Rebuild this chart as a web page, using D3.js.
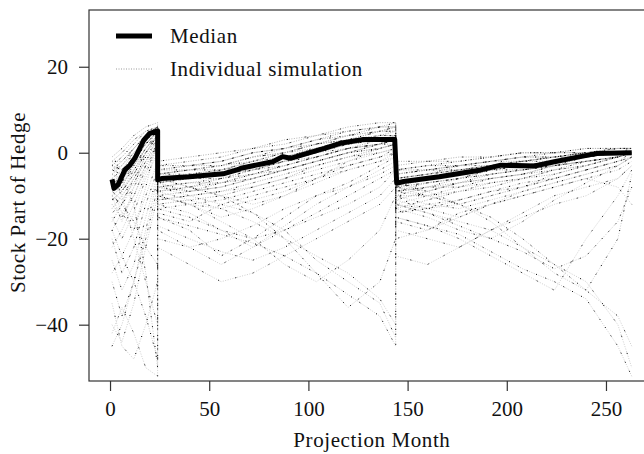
<!DOCTYPE html>
<html>
<head>
<meta charset="utf-8">
<script src="https://cdn.jsdelivr.net/npm/d3@7"></script>
<style>
  body { margin: 0; background: #fff; }
  text { font-family: 'Liberation Serif', 'Times New Roman', serif; fill: #111; }
</style>
</head>
<body>
<div id="chart"></div>
<script>
'use strict'

// median of the simulations (month, stock part)
const medianMonth = [1, 2, 4, 7.5, 10, 12.5, 17, 20, 24, 24, 26, 40, 57, 64, 66, 82, 87, 91, 99, 108, 116, 128, 143.5, 144.5, 148, 166, 187, 197, 214, 224, 237, 245, 263]
const medianValue = [-6.2, -8.3, -7.5, -4, -2.9, -1.3, 2.9, 4.5, 5.1, -6.3, -6, -5.6, -4.9, -4, -3.6, -2.1, -0.9, -1.3, -0.2, 1, 2.2, 3.1, 3.1, -7.1, -6.7, -5.6, -4, -2.9, -3.1, -2.1, -0.9, -0.2, 0]

// individual simulations sampled at these months (resets at 24 and 144)
const simMonths = [1, 6, 12, 18, 24, 24, 40, 56, 72, 88, 104, 120, 136, 144, 144, 160, 176, 192, 208, 224, 240, 256, 263]

// simulations staying close to the median
const simNear = [
  [-3, -1, 2, 5, 6, -4, -3, -2, 0, 1, 3, 5, 6, 7, -4, -3, -2, -1, 0, 0, 1, 1, 1],
  [-8, -9, -4, 1, 4, -8, -7, -6, -4, -2, 0, 2, 3, 3, -9, -7, -6, -4, -3, -2, -1, 0, 0],
  [-5, -3, 0, 3, 5, -5, -4, -3, -2, 0, 1, 3, 4, 5, -6, -5, -3, -3, -2, -1, 0, 0, 0],
  [-10, -12, -6, -1, 3, -7, -6, -5, -3, -1, 1, 2, 3, 4, -8, -6, -5, -4, -3, -2, -1, 0, 0],
  [-2, 0, 3, 5, 6, -3, -2, -1, 1, 2, 4, 5, 6, 6, -3, -2, -2, -1, 0, 0, 0, 1, 1],
  [-6, -8, -2, 2, 5, -6, -6, -4, -3, -1, 0, 2, 3, 3, -7, -6, -5, -3, -3, -2, -1, 0, 0],
  [-4, -2, 1, 4, 6, -5, -4, -4, -2, 0, 2, 3, 5, 5, -5, -4, -3, -2, -1, -1, 0, 0, 0],
  [-12, -15, -10, -3, 2, -9, -8, -7, -5, -3, -1, 1, 2, 2, -10, -8, -6, -5, -4, -3, -2, -1, 0],
  [-1, 1, 4, 6, 7, -2, -1, 0, 1, 3, 4, 6, 7, 7, -2, -2, -1, -1, 0, 0, 1, 1, 1],
  [-7, -5, -1, 3, 5, -6, -5, -5, -4, -2, -1, 1, 2, 3, -6, -5, -4, -3, -2, -2, -1, 0, 0],
  [-9, -11, -7, -2, 2, -8, -7, -7, -5, -4, -2, 0, 1, 2, -9, -8, -7, -5, -4, -3, -2, -1, 0],
  [-2, -4, -1, 3, 6, -7, -9, -8, -6, -4, -2, 0, 2, 4, -8, -9, -7, -6, -5, -3, -2, -1, 0],
  [-4, -5, -2, 2, 5, -5, -5, -4, -3, -1, 1, 3, 4, 4, -6, -5, -4, -3, -2, -1, 0, 0, 0],
  [-7, -6, -3, 1, 4, -7, -6, -5, -4, -2, 0, 1, 3, 3, -7, -6, -5, -4, -3, -2, -1, 0, 0],
  [-5, -7, -1, 4, 6, -4, -4, -3, -1, 0, 2, 4, 5, 6, -5, -4, -3, -2, -2, -1, 0, 0, 1],
  [-9, -7, -4, 0, 3, -9, -8, -6, -5, -3, -1, 1, 2, 3, -8, -7, -6, -5, -4, -3, -1, 0, 0],
  [-3, -4, 0, 3, 5, -6, -5, -4, -2, -1, 1, 2, 4, 4, -6, -5, -4, -3, -2, -1, -1, 0, 0],
  [-11, -9, -5, 0, 4, -10, -9, -8, -6, -4, -2, 0, 2, 3, -11, -9, -7, -6, -5, -3, -2, -1, 0],
  [-6, -4, -1, 2, 5, -3, -3, -2, 0, 1, 3, 4, 6, 6, -4, -3, -3, -2, -1, 0, 0, 1, 1],
  [-13, -10, -6, -2, 3, -12, -11, -10, -8, -6, -3, -1, 1, 2, -13, -11, -9, -8, -6, -5, -3, -1, 0],
  [-2, -2, 1, 4, 6, -6, -6, -5, -3, -2, 0, 2, 3, 4, -7, -6, -4, -4, -3, -2, -1, 0, 0],
  [-8, -6, -2, 2, 5, -8, -9, -7, -6, -4, -2, 0, 1, 2, -9, -8, -8, -6, -5, -4, -2, -1, 0],
  [-5, -6, -3, 1, 4, -4, -3, -3, -1, 0, 2, 3, 5, 5, -5, -4, -4, -3, -2, -1, 0, 0, 0],
  [-4, -3, 1, 4, 6, -5, -4, -3, -1, 1, 2, 4, 5, 6, -4, -4, -3, -2, -1, -1, 0, 1, 1],
  [-7, -9, -5, 0, 4, -7, -6, -6, -4, -3, -1, 1, 2, 3, -8, -7, -6, -4, -4, -3, -2, -1, 0],
  [-10, -8, -3, 1, 5, -11, -10, -9, -7, -5, -3, -1, 0, 1, -10, -10, -9, -7, -6, -4, -3, -1, 0]
]

// simulations that wander further down
const simFar = [
  [-15, -20, -14, -6, 0, -11, -10, -9, -8, -6, -4, -2, 0, 1, -12, -10, -8, -7, -6, -4, -3, -1, 0],
  [-20, -28, -22, -12, -4, -14, -16, -12, -10, -8, -6, -3, -1, 0, -14, -12, -11, -9, -8, -6, -4, -2, -1],
  [-8, -14, -18, -10, -2, -10, -12, -15, -13, -10, -7, -4, -2, -1, -11, -13, -15, -12, -9, -7, -5, -3, -1],
  [-25, -32, -26, -15, -5, -12, -14, -18, -22, -17, -12, -8, -4, -2, -13, -15, -18, -20, -16, -11, -7, -3, -1],
  [-30, -38, -30, -20, -8, -15, -18, -24, -20, -15, -10, -7, -3, -1, -16, -18, -14, -12, -10, -8, -6, -4, -2],
  [-6, -10, -20, -30, -40, -8, -10, -12, -14, -18, -25, -30, -35, -43, -9, -10, -12, -16, -22, -28, -32, -38, -45],
  [-40, -44, -35, -22, -10, -18, -22, -26, -22, -18, -15, -12, -8, -4, -18, -20, -22, -18, -15, -12, -10, -6, -3],
  [-3, -6, -12, -28, -50, -6, -8, -10, -14, -20, -28, -36, -30, -20, -7, -9, -12, -15, -20, -26, -32, -20, -5],
  [-45, -40, -30, -18, -6, -10, -12, -16, -20, -26, -30, -25, -18, -10, -12, -14, -16, -18, -22, -26, -30, -40, -50],
  [-35, -45, -48, -40, -30, -20, -22, -20, -17, -13, -10, -8, -5, -3, -20, -18, -15, -12, -10, -8, -6, -8, -12],
  [-18, -24, -30, -38, -48, -15, -17, -19, -21, -24, -28, -33, -38, -45, -15, -17, -19, -23, -27, -30, -34, -45, -52],
  [-10, -16, -8, 0, 4, -6, -8, -10, -12, -10, -6, -2, 1, 2, -8, -10, -12, -10, -8, -5, -3, -1, 0],
  [-22, -18, -12, -5, 2, -9, -11, -13, -16, -20, -24, -28, -34, -40, -10, -12, -13, -11, -9, -7, -5, -3, -1],
  [-14, -12, -16, -22, -26, -13, -15, -18, -20, -18, -14, -10, -6, -4, -12, -14, -17, -20, -23, -27, -24, -16, -8],
  [-28, -24, -18, -8, 3, -17, -20, -23, -25, -22, -18, -14, -10, -6, -15, -17, -20, -24, -28, -32, -20, -10, -4],
  [-42, -36, -42, -50, -52, -22, -26, -30, -28, -24, -20, -16, -12, -8, -24, -26, -22, -18, -14, -10, -8, -6, -3],
  [-16, -12, -8, -3, 1, -13, -12, -11, -9, -7, -5, -3, -1, 1, -14, -13, -11, -9, -7, -6, -4, -2, 0],
  [-18, -14, -10, -4, 1, -10, -12, -13, -11, -9, -6, -4, -2, 0, -12, -13, -12, -10, -8, -6, -4, -2, -1]
]

const xTicks = [0, 50, 100, 150, 200, 250]
const yTicks = [-40, -20, 0, 20]
const legendLabels = ['Median', 'Individual simulation']

const svgWidth = 644
const svgHeight = 454
const margin = { top: 10, left: 89 }
const width = 563
const height = 371

const svg = d3.select('#chart')
  .append('svg')
  .attr('width', svgWidth)
  .attr('height', svgHeight)

const g = svg.append('g')
  .attr('transform', `translate(${margin.left}, ${margin.top})`)

const xScale = d3.scaleLinear()
  .domain([-10.6, 273.2])
  .range([0, width])

const yScale = d3.scaleLinear()
  .domain([-53.1, 33.2])
  .range([height, 0])

g.append('clipPath')
  .attr('id', 'plot-clip')
  .append('rect')
  .attr('width', width)
  .attr('height', height)

const line = d3.line()
  .x(d => xScale(d[0]))
  .y(d => yScale(d[1]))

const plot = g.append('g').attr('clip-path', 'url(#plot-clip)')

const toPoints = vals => simMonths.map((m, i) => [m, vals[i]])
const farData = simFar.map(toPoints)
const nearData = simNear.map(toPoints)

// light dotted paths
plot.selectAll('.sim-far')
  .data(farData)
  .enter()
  .append('path')
  .attr('class', 'sim-far')
  .attr('d', line)
  .attr('fill', 'none')
  .attr('stroke', '#cfcfcf')
  .attr('stroke-width', 1)
  .attr('stroke-dasharray', '1,1.5')

plot.selectAll('.sim-near')
  .data(nearData)
  .enter()
  .append('path')
  .attr('class', 'sim-near')
  .attr('d', line)
  .attr('fill', 'none')
  .attr('stroke', '#b5b5b5')
  .attr('stroke-width', 1)
  .attr('stroke-dasharray', '1,1.5')

// scattered dark dots along the paths
plot.selectAll('.sim-dark')
  .data(nearData.concat(farData))
  .enter()
  .append('path')
  .attr('class', 'sim-dark')
  .attr('d', line)
  .attr('fill', 'none')
  .attr('stroke', '#000')
  .attr('stroke-width', 1)
  .attr('stroke-dasharray', (d, i) => i % 3 === 0 ? '1,9' : '1,17')
  .attr('stroke-dashoffset', (d, i) => (i * 5) % 17)

// median
plot.append('path')
  .datum(medianMonth.map((m, i) => [m, medianValue[i]]))
  .attr('d', line)
  .attr('fill', 'none')
  .attr('stroke', '#000')
  .attr('stroke-width', 5)
  .attr('stroke-linejoin', 'round')

// frame
g.append('rect')
  .attr('width', width)
  .attr('height', height)
  .attr('fill', 'none')
  .attr('stroke', '#333')
  .attr('stroke-width', 1.2)

const xAxis = g.append('g')
  .attr('transform', `translate(0, ${height})`)
  .call(d3.axisBottom(xScale).tickValues(xTicks).tickSize(10).tickPadding(10).tickFormat(d3.format('d')))
xAxis.select('.domain').remove()

const yAxis = g.append('g')
  .call(d3.axisLeft(yScale).tickValues(yTicks).tickSize(10).tickPadding(11).tickFormat(d3.format('d')))
yAxis.select('.domain').remove()

svg.selectAll('.tick line').attr('stroke', '#333').attr('stroke-width', 1.2)
svg.selectAll('.tick text')
  .attr('font-size', 21)
  .attr('fill', '#111')

// axis titles
svg.append('text')
  .attr('x', margin.left + xScale(132))
  .attr('y', 447)
  .attr('text-anchor', 'middle')
  .attr('font-size', 21)
  .attr('letter-spacing', 0.6)
  .text('Projection Month')

svg.append('text')
  .attr('transform', `translate(25, ${margin.top + height / 2 + 7}) rotate(-90)`)
  .attr('text-anchor', 'middle')
  .attr('font-size', 21)
  .attr('letter-spacing', 0.6)
  .text('Stock Part of Hedge')

// legend
const legend = svg.append('g')
const legendY = [36, 69]
legend.append('line')
  .attr('x1', 116).attr('x2', 152)
  .attr('y1', legendY[0]).attr('y2', legendY[0])
  .attr('stroke', '#000')
  .attr('stroke-width', 5)
legend.append('line')
  .attr('x1', 116).attr('x2', 152)
  .attr('y1', legendY[1]).attr('y2', legendY[1])
  .attr('stroke', '#999')
  .attr('stroke-width', 1)
  .attr('stroke-dasharray', '1,1.5')
legend.selectAll('.legend-label')
  .data(legendLabels)
  .enter()
  .append('text')
  .attr('class', 'legend-label')
  .attr('x', 170)
  .attr('y', (d, i) => legendY[i] + 7)
  .attr('font-size', 21)
  .attr('letter-spacing', 0.6)
  .text(d => d)
</script>
</body>
</html>
